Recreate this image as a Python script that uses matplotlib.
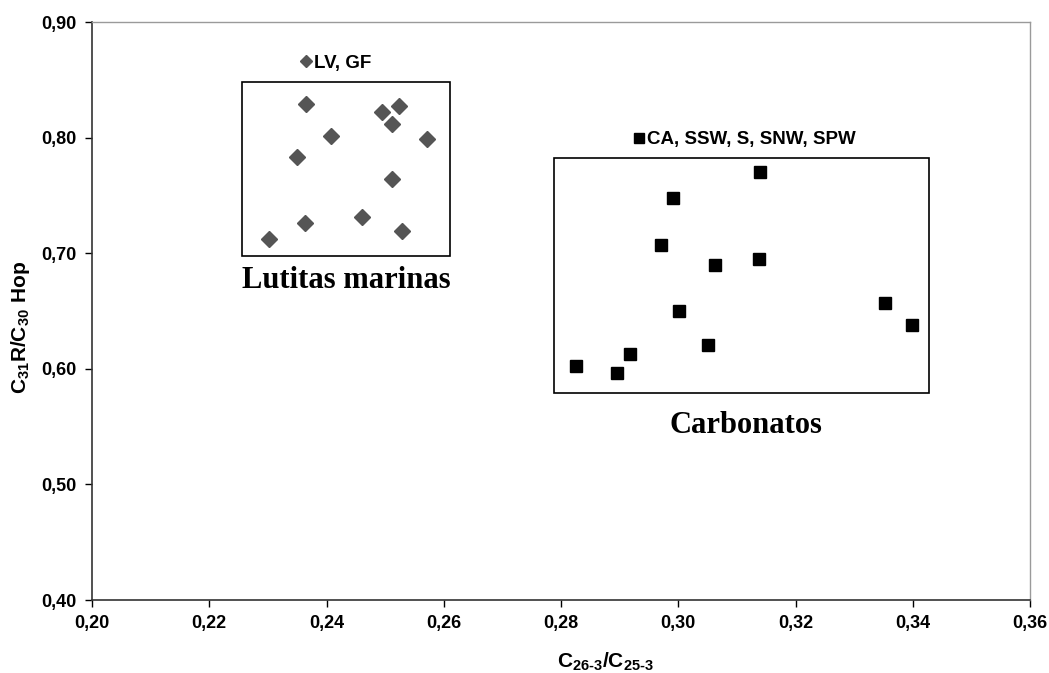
import numpy as np
import matplotlib
matplotlib.use("Agg")
import matplotlib.pyplot as plt
from matplotlib.patches import Rectangle
from matplotlib.ticker import FuncFormatter

plt.rcParams["font.family"] = "Liberation Sans"
plt.rcParams["font.weight"] = "bold"
plt.rcParams["mathtext.fontset"] = "custom"
plt.rcParams["mathtext.rm"] = "Liberation Sans:bold"
plt.rcParams["mathtext.it"] = "Liberation Sans:bold"
plt.rcParams["mathtext.bf"] = "Liberation Sans:bold"

# Lutitas marinas (LV, GF)
lut_x = [0.2365, 0.2494, 0.2523, 0.2512, 0.2407, 0.2571,
         0.2350, 0.2512, 0.2363, 0.2461, 0.2529, 0.2302]
lut_y = [0.829, 0.822, 0.827, 0.812, 0.801, 0.799,
         0.783, 0.764, 0.726, 0.731, 0.719, 0.712]

# Carbonatos (CA, SSW, S, SNW, SPW)
car_x = [0.3139, 0.2991, 0.2970, 0.3063, 0.3137, 0.3352,
         0.3398, 0.3002, 0.3050, 0.2918, 0.2826, 0.2896]
car_y = [0.770, 0.748, 0.707, 0.690, 0.695, 0.657,
         0.638, 0.650, 0.621, 0.613, 0.602, 0.596]

xticks = [0.20, 0.22, 0.24, 0.26, 0.28, 0.30, 0.32, 0.34, 0.36]
yticks = [0.40, 0.50, 0.60, 0.70, 0.80, 0.90]

fig = plt.figure(figsize=(10.49, 6.73), dpi=100)
ax = fig.add_axes([92 / 1049, 1 - 600 / 673, 938 / 1049, 578 / 673])

l1, = ax.plot(lut_x, lut_y, linestyle="none", marker="D", markersize=8,
              color="#555555", label="LV, GF")
l2, = ax.plot(car_x, car_y, linestyle="none", marker="s", markersize=9,
              color="black", label="CA, SSW, S, SNW, SPW")

ax.set_xlim(0.20, 0.36)
ax.set_ylim(0.40, 0.90)
ax.set_xticks(xticks)
ax.set_yticks(yticks)
fmt = FuncFormatter(lambda v, p: f"{v:.2f}".replace(".", ","))
ax.xaxis.set_major_formatter(fmt)
ax.yaxis.set_major_formatter(fmt)
ax.tick_params(labelsize=13, length=5, width=1, direction="out", pad=6)

for s in ["top", "right"]:
    ax.spines[s].set_color("#9a9a9a")
    ax.spines[s].set_linewidth(1)
for s in ["left", "bottom"]:
    ax.spines[s].set_color("#333333")
    ax.spines[s].set_linewidth(1.2)

ax.set_xlabel(r"$\mathrm{C_{26\text{-}3}/C_{25\text{-}3}}$", fontsize=15)
ax.set_ylabel(r"$\mathrm{C_{31}R/C_{30}\ Hop}$", fontsize=15)
ax.xaxis.set_label_coords(0.547, -0.088)
ax.yaxis.set_label_coords(-0.064, 0.472)

# group boxes
ax.add_patch(Rectangle((0.2256, 0.6976), 0.2611 - 0.2256, 0.8484 - 0.6976,
                       fill=False, edgecolor="black", linewidth=1.2))
ax.add_patch(Rectangle((0.2788, 0.5788), 0.3427 - 0.2788, 0.7826 - 0.5788,
                       fill=False, edgecolor="black", linewidth=1.2))

ax.text(0.2433, 0.6885, "Lutitas marinas", family="Liberation Serif",
        fontweight="bold", fontsize=22, ha="center", va="top")
ax.text(0.3115, 0.5635, "Carbonatos", family="Liberation Serif",
        fontweight="bold", fontsize=22, ha="center", va="top")

leg1 = ax.legend(handles=[l1], loc="center left", bbox_to_anchor=(0.222, 0.929),
                 frameon=False, fontsize=13.5, handlelength=0.6,
                 handletextpad=0.15, borderpad=0, borderaxespad=0,
                 markerscale=0.75)
ax.add_artist(leg1)
ax.legend(handles=[l2], loc="center left", bbox_to_anchor=(0.577, 0.796),
          frameon=False, fontsize=13.5, handlelength=0.6,
          handletextpad=0.15, borderpad=0, borderaxespad=0, markerscale=0.75)

fig.savefig("out.png", dpi=100)
